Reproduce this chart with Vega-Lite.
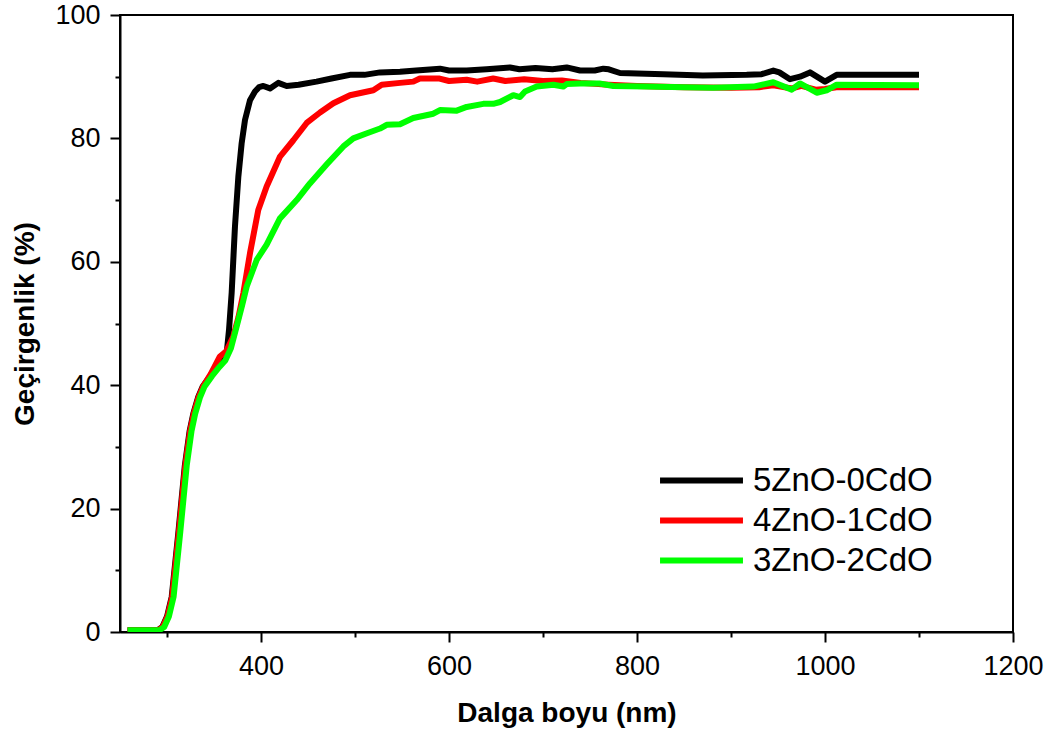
{
  "$schema": "https://vega.github.io/schema/vega-lite/v6.json",
  "autosize": "none",
  "padding": {"left": 120, "top": 15, "right": 43, "bottom": 104},
  "width": 893,
  "height": 617,
  "background": "white",
  "config": {
    "font": "Liberation Sans",
    "view": {"stroke": "black", "strokeWidth": 2},
    "axis": {
      "domainColor": "black", "domainWidth": 2, "tickColor": "black", "tickWidth": 2,
      "labelColor": "black", "labelFontSize": 27, "labelFont": "Liberation Sans",
      "titleColor": "black", "titleFontSize": 28, "titleFontWeight": "bold", "titleFont": "Liberation Sans",
      "grid": false
    }
  },
  "data": {"values": [
    {"s":"5ZnO-0CdO","nm":258,"T":0.3},{"s":"5ZnO-0CdO","nm":290,"T":0.3},{"s":"5ZnO-0CdO","nm":295,"T":0.8},{"s":"5ZnO-0CdO","nm":300,"T":2.5},{"s":"5ZnO-0CdO","nm":305,"T":5.7},{"s":"5ZnO-0CdO","nm":312,"T":16},{"s":"5ZnO-0CdO","nm":319,"T":27},{"s":"5ZnO-0CdO","nm":324,"T":32.5},{"s":"5ZnO-0CdO","nm":328,"T":35.4},{"s":"5ZnO-0CdO","nm":333,"T":38},{"s":"5ZnO-0CdO","nm":338,"T":39.8},{"s":"5ZnO-0CdO","nm":346,"T":41.5},{"s":"5ZnO-0CdO","nm":354,"T":43},{"s":"5ZnO-0CdO","nm":360,"T":44},{"s":"5ZnO-0CdO","nm":363.5,"T":45.2},{"s":"5ZnO-0CdO","nm":366,"T":49},{"s":"5ZnO-0CdO","nm":368.8,"T":55},{"s":"5ZnO-0CdO","nm":372.3,"T":65.7},{"s":"5ZnO-0CdO","nm":375.9,"T":73.8},{"s":"5ZnO-0CdO","nm":379.4,"T":79.2},{"s":"5ZnO-0CdO","nm":383,"T":83},{"s":"5ZnO-0CdO","nm":388.3,"T":86.2},{"s":"5ZnO-0CdO","nm":393.6,"T":87.6},{"s":"5ZnO-0CdO","nm":398,"T":88.3},{"s":"5ZnO-0CdO","nm":402.5,"T":88.5},{"s":"5ZnO-0CdO","nm":409.6,"T":88.1},{"s":"5ZnO-0CdO","nm":418.4,"T":89},{"s":"5ZnO-0CdO","nm":427.3,"T":88.5},{"s":"5ZnO-0CdO","nm":440,"T":88.7},{"s":"5ZnO-0CdO","nm":459,"T":89.2},{"s":"5ZnO-0CdO","nm":475,"T":89.7},{"s":"5ZnO-0CdO","nm":494.7,"T":90.3},{"s":"5ZnO-0CdO","nm":510,"T":90.3},{"s":"5ZnO-0CdO","nm":526.6,"T":90.7},{"s":"5ZnO-0CdO","nm":547.9,"T":90.8},{"s":"5ZnO-0CdO","nm":565,"T":91},{"s":"5ZnO-0CdO","nm":590.4,"T":91.3},{"s":"5ZnO-0CdO","nm":600,"T":91},{"s":"5ZnO-0CdO","nm":618.8,"T":91},{"s":"5ZnO-0CdO","nm":640,"T":91.2},{"s":"5ZnO-0CdO","nm":664.9,"T":91.5},{"s":"5ZnO-0CdO","nm":675,"T":91.2},{"s":"5ZnO-0CdO","nm":692,"T":91.4},{"s":"5ZnO-0CdO","nm":710,"T":91.2},{"s":"5ZnO-0CdO","nm":725.2,"T":91.5},{"s":"5ZnO-0CdO","nm":739.4,"T":91},{"s":"5ZnO-0CdO","nm":755,"T":91},{"s":"5ZnO-0CdO","nm":764.2,"T":91.3},{"s":"5ZnO-0CdO","nm":770,"T":91.2},{"s":"5ZnO-0CdO","nm":781.9,"T":90.6},{"s":"5ZnO-0CdO","nm":828,"T":90.4},{"s":"5ZnO-0CdO","nm":870,"T":90.2},{"s":"5ZnO-0CdO","nm":916.7,"T":90.3},{"s":"5ZnO-0CdO","nm":932.6,"T":90.4},{"s":"5ZnO-0CdO","nm":945,"T":91},{"s":"5ZnO-0CdO","nm":951.4,"T":90.7},{"s":"5ZnO-0CdO","nm":962.8,"T":89.6},{"s":"5ZnO-0CdO","nm":973.4,"T":90},{"s":"5ZnO-0CdO","nm":984,"T":90.7},{"s":"5ZnO-0CdO","nm":1000,"T":89.2},{"s":"5ZnO-0CdO","nm":1012.4,"T":90.3},{"s":"5ZnO-0CdO","nm":1050,"T":90.3},{"s":"5ZnO-0CdO","nm":1100,"T":90.3},

    {"s":"4ZnO-1CdO","nm":258,"T":0.3},{"s":"4ZnO-1CdO","nm":290.5,"T":0.3},{"s":"4ZnO-1CdO","nm":295.5,"T":0.8},{"s":"4ZnO-1CdO","nm":300.5,"T":2.5},{"s":"4ZnO-1CdO","nm":305.5,"T":5.7},{"s":"4ZnO-1CdO","nm":312.5,"T":16},{"s":"4ZnO-1CdO","nm":319.5,"T":27},{"s":"4ZnO-1CdO","nm":324.5,"T":32.5},{"s":"4ZnO-1CdO","nm":328.5,"T":35.4},{"s":"4ZnO-1CdO","nm":333.5,"T":38},{"s":"4ZnO-1CdO","nm":338.5,"T":39.8},{"s":"4ZnO-1CdO","nm":346.5,"T":41.8},{"s":"4ZnO-1CdO","nm":356,"T":44.6},{"s":"4ZnO-1CdO","nm":363,"T":45.5},{"s":"4ZnO-1CdO","nm":370.5,"T":47.9},{"s":"4ZnO-1CdO","nm":376,"T":51},{"s":"4ZnO-1CdO","nm":381.2,"T":54.9},{"s":"4ZnO-1CdO","nm":388.3,"T":61.4},{"s":"4ZnO-1CdO","nm":397.1,"T":68.4},{"s":"4ZnO-1CdO","nm":406,"T":72.2},{"s":"4ZnO-1CdO","nm":420,"T":77},{"s":"4ZnO-1CdO","nm":434.4,"T":79.7},{"s":"4ZnO-1CdO","nm":448.6,"T":82.5},{"s":"4ZnO-1CdO","nm":462.8,"T":84.2},{"s":"4ZnO-1CdO","nm":477,"T":85.7},{"s":"4ZnO-1CdO","nm":494.7,"T":87},{"s":"4ZnO-1CdO","nm":519.5,"T":87.8},{"s":"4ZnO-1CdO","nm":528.4,"T":88.7},{"s":"4ZnO-1CdO","nm":547.9,"T":89},{"s":"4ZnO-1CdO","nm":562,"T":89.2},{"s":"4ZnO-1CdO","nm":569,"T":89.7},{"s":"4ZnO-1CdO","nm":590,"T":89.7},{"s":"4ZnO-1CdO","nm":600,"T":89.3},{"s":"4ZnO-1CdO","nm":618.8,"T":89.5},{"s":"4ZnO-1CdO","nm":630,"T":89.2},{"s":"4ZnO-1CdO","nm":647,"T":89.7},{"s":"4ZnO-1CdO","nm":660,"T":89.3},{"s":"4ZnO-1CdO","nm":680,"T":89.6},{"s":"4ZnO-1CdO","nm":700,"T":89.3},{"s":"4ZnO-1CdO","nm":720,"T":89.4},{"s":"4ZnO-1CdO","nm":740,"T":89},{"s":"4ZnO-1CdO","nm":770,"T":88.7},{"s":"4ZnO-1CdO","nm":800,"T":88.5},{"s":"4ZnO-1CdO","nm":850,"T":88.3},{"s":"4ZnO-1CdO","nm":900,"T":88.2},{"s":"4ZnO-1CdO","nm":930,"T":88.3},{"s":"4ZnO-1CdO","nm":945,"T":88.6},{"s":"4ZnO-1CdO","nm":965,"T":88.1},{"s":"4ZnO-1CdO","nm":975,"T":88.5},{"s":"4ZnO-1CdO","nm":990,"T":87.9},{"s":"4ZnO-1CdO","nm":1000,"T":88},{"s":"4ZnO-1CdO","nm":1012,"T":88.3},{"s":"4ZnO-1CdO","nm":1100,"T":88.3},

    {"s":"3ZnO-2CdO","nm":258,"T":0.3},{"s":"3ZnO-2CdO","nm":292,"T":0.3},{"s":"3ZnO-2CdO","nm":297,"T":0.8},{"s":"3ZnO-2CdO","nm":302,"T":2.5},{"s":"3ZnO-2CdO","nm":307,"T":5.7},{"s":"3ZnO-2CdO","nm":314,"T":16},{"s":"3ZnO-2CdO","nm":321,"T":27},{"s":"3ZnO-2CdO","nm":326,"T":32.5},{"s":"3ZnO-2CdO","nm":330,"T":35.4},{"s":"3ZnO-2CdO","nm":335,"T":38},{"s":"3ZnO-2CdO","nm":340,"T":39.8},{"s":"3ZnO-2CdO","nm":348,"T":41.5},{"s":"3ZnO-2CdO","nm":356,"T":43},{"s":"3ZnO-2CdO","nm":362,"T":44},{"s":"3ZnO-2CdO","nm":368,"T":46},{"s":"3ZnO-2CdO","nm":374.1,"T":49.5},{"s":"3ZnO-2CdO","nm":380,"T":53},{"s":"3ZnO-2CdO","nm":384.8,"T":56},{"s":"3ZnO-2CdO","nm":395.4,"T":60.3},{"s":"3ZnO-2CdO","nm":406,"T":62.8},{"s":"3ZnO-2CdO","nm":420,"T":67},{"s":"3ZnO-2CdO","nm":438,"T":70},{"s":"3ZnO-2CdO","nm":452,"T":72.7},{"s":"3ZnO-2CdO","nm":470,"T":75.8},{"s":"3ZnO-2CdO","nm":487.6,"T":78.7},{"s":"3ZnO-2CdO","nm":498.2,"T":80},{"s":"3ZnO-2CdO","nm":512,"T":80.8},{"s":"3ZnO-2CdO","nm":526.6,"T":81.6},{"s":"3ZnO-2CdO","nm":533.7,"T":82.2},{"s":"3ZnO-2CdO","nm":547.9,"T":82.3},{"s":"3ZnO-2CdO","nm":562,"T":83.3},{"s":"3ZnO-2CdO","nm":583.3,"T":84},{"s":"3ZnO-2CdO","nm":590.4,"T":84.6},{"s":"3ZnO-2CdO","nm":608.2,"T":84.5},{"s":"3ZnO-2CdO","nm":618.8,"T":85.1},{"s":"3ZnO-2CdO","nm":636.5,"T":85.6},{"s":"3ZnO-2CdO","nm":647.1,"T":85.6},{"s":"3ZnO-2CdO","nm":654.3,"T":85.9},{"s":"3ZnO-2CdO","nm":668.4,"T":87},{"s":"3ZnO-2CdO","nm":675.5,"T":86.7},{"s":"3ZnO-2CdO","nm":680.9,"T":87.6},{"s":"3ZnO-2CdO","nm":693.3,"T":88.4},{"s":"3ZnO-2CdO","nm":711,"T":88.7},{"s":"3ZnO-2CdO","nm":721.6,"T":88.4},{"s":"3ZnO-2CdO","nm":725.2,"T":88.8},{"s":"3ZnO-2CdO","nm":739.4,"T":88.9},{"s":"3ZnO-2CdO","nm":760,"T":88.9},{"s":"3ZnO-2CdO","nm":774.8,"T":88.5},{"s":"3ZnO-2CdO","nm":810,"T":88.4},{"s":"3ZnO-2CdO","nm":850,"T":88.3},{"s":"3ZnO-2CdO","nm":881,"T":88.2},{"s":"3ZnO-2CdO","nm":923.8,"T":88.4},{"s":"3ZnO-2CdO","nm":945,"T":89.1},{"s":"3ZnO-2CdO","nm":964.6,"T":87.9},{"s":"3ZnO-2CdO","nm":973.4,"T":88.9},{"s":"3ZnO-2CdO","nm":991.2,"T":87.4},{"s":"3ZnO-2CdO","nm":1001.8,"T":87.8},{"s":"3ZnO-2CdO","nm":1012.4,"T":88.7},{"s":"3ZnO-2CdO","nm":1100,"T":88.6}
  ]},
  "mark": {"type": "line", "strokeWidth": 6, "strokeJoin": "round", "strokeCap": "butt", "clip": true},
  "encoding": {
    "x": {
      "field": "nm", "type": "quantitative",
      "scale": {"domain": [250, 1200], "nice": false, "zero": false},
      "axis": {
        "title": "Dalga boyu (nm)",
        "values": [300, 400, 500, 600, 700, 800, 900, 1000, 1100, 1200],
        "labelExpr": "datum.value % 200 === 0 ? datum.label : ''",
        "format": "d",
        "tickSize": {"condition": {"test": "datum.value % 200 === 0", "value": 10}, "value": 5},
        "labelPadding": 11,
        "labelFlush": false,
        "labelOverlap": false,
        "titlePadding": 20
      }
    },
    "y": {
      "field": "T", "type": "quantitative",
      "scale": {"domain": [0, 100], "nice": false},
      "axis": {
        "title": "Geçirgenlik (%)",
        "values": [0, 10, 20, 30, 40, 50, 60, 70, 80, 90, 100],
        "labelExpr": "datum.value % 20 === 0 ? datum.label : ''",
        "format": "d",
        "tickSize": {"condition": {"test": "datum.value % 20 === 0", "value": 10}, "value": 5},
        "labelPadding": 10,
        "labelFlush": false,
        "labelOverlap": false,
        "titlePadding": 15
      }
    },
    "color": {
      "field": "s", "type": "nominal", "sort": null,
      "scale": {"domain": ["5ZnO-0CdO", "4ZnO-1CdO", "3ZnO-2CdO"], "range": ["#000000", "#ff0000", "#00ff00"]},
      "legend": {
        "title": null, "orient": "none", "legendX": 565, "legendY": 449,
        "symbolType": "M-4,0H4", "symbolSize": 430, "symbolStrokeWidth": 6,
        "labelFontSize": 33, "labelFont": "Liberation Sans", "labelColor": "black",
        "labelOffset": 35, "rowPadding": 6, "labelLimit": 400
      }
    }
  }
}
